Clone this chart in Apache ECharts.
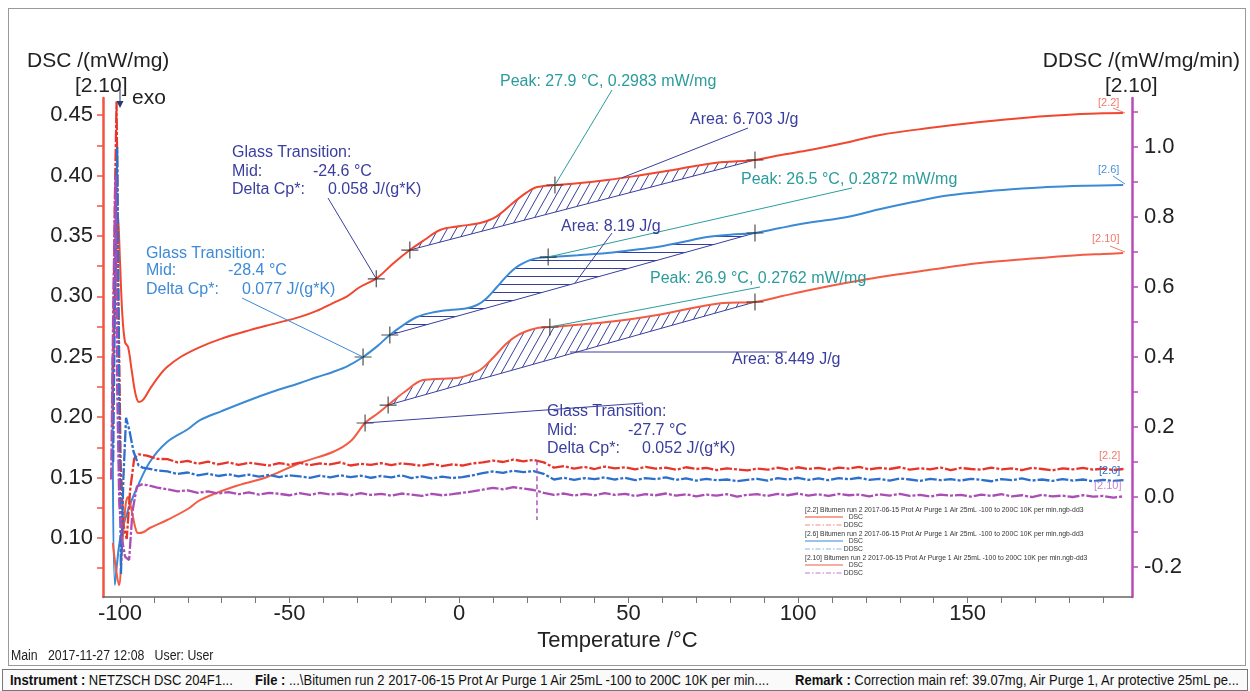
<!DOCTYPE html>
<html>
<head>
<meta charset="utf-8">
<title>DSC Bitumen</title>
<script src="https://cdn.jsdelivr.net/npm/echarts@6/dist/echarts.min.js"></script>
<style>
  body { margin: 0; background: #fff; font-family: "Liberation Sans", Arial, sans-serif; }
  #frame { position: absolute; left: 8px; top: 8px; width: 1236px; height: 656px; border: 1px solid #9a9a9a; }
  #chart { position: absolute; left: 0; top: 0; width: 1250px; height: 691px; }
  #meta { position: absolute; left: 11px; top: 647px; font-size: 14px; color: #222; white-space: pre; transform: scaleX(0.88); transform-origin: left; }
  #status { position: absolute; left: 2px; top: 669px; width: 1244px; height: 20px; border: 1px solid #777; background: #fafafa; font-size: 14px; color: #111; white-space: nowrap; }
  #status span { position: absolute; top: 2px; transform: scaleX(0.93); transform-origin: left; }
  #status b { font-weight: bold; }
</style>
</head>
<body>
<div id="frame"></div>
<div id="chart"></div>
<div id="meta">Main   2017-11-27 12:08   User: User</div>
<div id="status">
  <span style="left:7px"><b>Instrument :</b>  NETZSCH DSC 204F1...</span>
  <span style="left:252px"><b>File :</b>  ...\Bitumen run 2 2017-06-15 Prot Ar Purge 1 Air 25mL -100 to 200C 10K per min....</span>
  <span style="left:792px"><b>Remark :</b>  Correction main ref: 39.07mg, Air Purge 1, Ar protective 25mL pe...</span>
</div>
<script>
// DSC curves (left axis, mW/mg)
const dsc22T = [-102.0, -101.2, -100.6, -100.0, -99.3, -98.5, -97.6, -96.5, -95.4, -94.4, -93.0, -91.0, -88.5, -86.1, -82.0, -76.4, -70.0, -61.7, -55.0, -46.9, -42.0, -37.2, -33.0, -29.2, -24.2, -19.5, -14.5, -10.0, -5.6, 0.0, 6.2, 11.0, 15.9, 20.0, 23.0, 28.3, 35.0, 43.7, 53.0, 63.1, 70.0, 77.9, 87.3, 95.0, 103.5, 114.0, 124.2, 138.0, 153.7, 168.0, 183.2, 190.0, 195.9];
const dsc22 = [0.240, 0.320, 0.369, 0.330, 0.285, 0.262, 0.258, 0.238, 0.219, 0.2125, 0.215, 0.224, 0.234, 0.2415, 0.250, 0.258, 0.265, 0.272, 0.277, 0.283, 0.288, 0.2944, 0.300, 0.3077, 0.3151, 0.327, 0.3383, 0.347, 0.3549, 0.358, 0.3606, 0.366, 0.3772, 0.386, 0.3904, 0.3921, 0.3935, 0.3962, 0.400, 0.4045, 0.408, 0.4111, 0.4128, 0.417, 0.421, 0.427, 0.4335, 0.439, 0.4442, 0.448, 0.4508, 0.4515, 0.4517];

const dsc26T = [-102.2, -101.5, -100.0, -97.6, -95.0, -91.2, -86.1, -80.0, -76.4, -70.0, -61.7, -55.0, -46.9, -42.0, -37.2, -33.0, -28.3, -24.0, -20.4, -16.0, -12.4, -8.0, -2.7, 2.0, 5.3, 8.0, 11.2, 13.5, 15.9, 18.0, 20.9, 23.5, 26.3, 35.0, 43.7, 50.0, 58.4, 66.0, 73.2, 80.0, 87.3, 94.7, 103.5, 114.5, 124.0, 133.9, 143.0, 153.7, 163.0, 173.5, 185.0, 195.9];
const dsc26 = [0.250, 0.0611, 0.0984, 0.1232, 0.1414, 0.1629, 0.1794, 0.190, 0.1976, 0.205, 0.2142, 0.221, 0.2283, 0.233, 0.2374, 0.242, 0.2498, 0.259, 0.268, 0.277, 0.2829, 0.2865, 0.2887, 0.290, 0.2928, 0.298, 0.3077, 0.315, 0.3218, 0.326, 0.330, 0.3318, 0.3325, 0.334, 0.3358, 0.338, 0.3408, 0.345, 0.349, 0.351, 0.3524, 0.3565, 0.361, 0.3656, 0.372, 0.378, 0.383, 0.3863, 0.3885, 0.3904, 0.3915, 0.3921];

const dsc210T = [-102.1, -101.2, -100.3, -99.3, -98.3, -97.6, -96.5, -95.5, -94.7, -93.0, -91.2, -86.1, -80.0, -76.4, -66.7, -56.6, -46.9, -37.2, -32.0, -27.7, -24.0, -20.9, -16.0, -10.6, -5.0, -0.6, 3.0, 6.2, 10.0, 14.2, 17.5, 20.9, 23.5, 26.8, 35.0, 43.7, 53.0, 63.1, 70.0, 77.9, 87.3, 95.0, 103.5, 114.0, 124.2, 138.0, 153.7, 168.0, 183.2, 190.0, 195.9];
const dsc210 = [0.0959, 0.075, 0.0611, 0.095, 0.128, 0.134, 0.122, 0.109, 0.1041, 0.105, 0.1083, 0.1149, 0.124, 0.1314, 0.1422, 0.1505, 0.1621, 0.1712, 0.180, 0.1952, 0.203, 0.210, 0.221, 0.2307, 0.2318, 0.2324, 0.235, 0.239, 0.249, 0.2614, 0.268, 0.2721, 0.274, 0.2746, 0.2765, 0.2787, 0.282, 0.287, 0.291, 0.2944, 0.2953, 0.300, 0.3052, 0.311, 0.316, 0.3215, 0.3275, 0.331, 0.3342, 0.335, 0.3358];

// DDSC curves (right axis, mW/mg/min): start-up transient, then the noisy trace
const ddsc22HeadT = [-102.2, -101.5, -101.0, -100.5, -99.8, -99.0, -98.0, -97.0, -95.8, -94.5];
const ddsc22Head = [0.20, 0.85, 1.13, 0.60, 0.10, -0.08, -0.12, 0.02, 0.11, 0.122];
const ddsc26HeadT = [-102.0, -101.3, -100.8, -100.3, -99.7, -99.0, -98.2, -97.2, -96.0, -94.5, -93.3];
const ddsc26Head = [0.10, 0.75, 1.00, 0.35, -0.22, 0.05, 0.226, 0.19, 0.13, 0.09, 0.084];
const ddsc210HeadT = [-102.6, -101.9, -101.3, -100.8, -100.2, -99.4, -98.5, -97.3, -96.3, -95.0, -93.5];
const ddsc210Head = [0.05, 0.60, 0.92, 0.30, -0.02, -0.12, -0.17, -0.18, -0.04, 0.03, 0.036];

const ddscT = [-92, -89, -86, -83, -80, -77, -74, -71, -68, -65, -62, -59, -56, -53, -50, -47, -44, -41, -38, -35, -32, -29, -26, -23, -20, -17, -14, -11, -8, -5, -2, 1, 4, 7, 10, 13, 16, 19, 22, 25, 28, 31, 34, 37, 40, 43, 46, 49, 52, 55, 58, 61, 64, 67, 70, 73, 76, 79, 82, 85, 88, 91, 94, 97, 100, 103, 106, 109, 112, 115, 118, 121, 124, 127, 130, 133, 136, 139, 142, 145, 148, 151, 154, 157, 160, 163, 166, 169, 172, 175, 178, 181, 184, 187, 190, 193, 196];
const ddsc22 = [0.118, 0.109, 0.108, 0.099, 0.103, 0.095, 0.101, 0.093, 0.099, 0.092,
  0.098, 0.094, 0.090, 0.097, 0.092, 0.098, 0.091, 0.096, 0.093, 0.099,
  0.090, 0.095, 0.092, 0.097, 0.091, 0.096, 0.093, 0.089, 0.095, 0.088,
  0.093, 0.090, 0.096, 0.099, 0.104, 0.100, 0.107, 0.102, 0.106, 0.099,
  0.084, 0.088, 0.081, 0.086, 0.080, 0.087, 0.082, 0.085, 0.079, 0.086,
  0.081, 0.084, 0.078, 0.085, 0.080, 0.083, 0.077, 0.082, 0.079, 0.076,
  0.081, 0.078, 0.084, 0.079, 0.085, 0.080, 0.083, 0.078, 0.084, 0.081,
  0.086, 0.079, 0.083, 0.080, 0.085, 0.078, 0.082, 0.079, 0.084, 0.077,
  0.083, 0.080, 0.078, 0.084, 0.079, 0.082, 0.077, 0.083, 0.080, 0.076,
  0.082, 0.079, 0.083, 0.078, 0.081, 0.077, 0.080];
const ddsc26 = [0.082, 0.076, 0.073, 0.066, 0.070, 0.062, 0.067, 0.060, 0.065, 0.059,
  0.064, 0.058, 0.063, 0.057, 0.062, 0.059, 0.055, 0.061, 0.056, 0.062,
  0.057, 0.061, 0.055, 0.060, 0.056, 0.062, 0.054, 0.059, 0.053, 0.058,
  0.054, 0.057, 0.062, 0.068, 0.073, 0.069, 0.075, 0.071, 0.074, 0.066,
  0.050, 0.055, 0.049, 0.054, 0.051, 0.056, 0.050, 0.055, 0.048, 0.054,
  0.051, 0.056, 0.049, 0.053, 0.047, 0.052, 0.048, 0.050, 0.045, 0.049,
  0.052, 0.047, 0.054, 0.050, 0.055, 0.049, 0.053, 0.048, 0.054, 0.051,
  0.055, 0.049, 0.052, 0.047, 0.053, 0.050, 0.046, 0.052, 0.048, 0.051,
  0.047, 0.052, 0.049, 0.045, 0.051, 0.048, 0.053, 0.047, 0.050, 0.046,
  0.051, 0.047, 0.050, 0.045, 0.049, 0.046, 0.048];
const ddsc210 = [0.034, 0.027, 0.022, 0.016, 0.019, 0.012, 0.016, 0.010, 0.014, 0.008,
  0.013, 0.007, 0.012, 0.009, 0.005, 0.011, 0.006, 0.012, 0.007, 0.010,
  0.005, 0.011, 0.006, 0.009, 0.004, 0.010, 0.007, 0.003, 0.009, 0.005,
  0.008, 0.012, 0.016, 0.021, 0.026, 0.022, 0.028, 0.024, 0.020, 0.012,
  0.006, 0.010, 0.004, 0.009, 0.005, 0.011, 0.006, 0.009, 0.003, 0.008,
  0.005, 0.010, 0.004, 0.008, 0.002, 0.007, 0.004, 0.008, 0.001, 0.006,
  0.008, 0.003, 0.009, 0.005, 0.010, 0.004, 0.008, 0.003, 0.009, 0.005,
  0.007, 0.002, 0.008, 0.004, 0.009, 0.003, 0.006, 0.001, 0.007, 0.004,
  0.006, 0.001, 0.007, 0.003, 0.008, 0.002, 0.005, 0.000, 0.006, 0.002,
  0.004, 0.000, 0.005, 0.001, 0.003, -0.002, 0.002];
const ddsc210SpikeT = [23.0, 23.0];
const ddsc210Spike = [0.105, -0.066];

// evaluation points (+) on each DSC curve: glass mid, hatch start, peak, hatch end
const cross22T = [-24.4, -14.5, 28.3, 87.3];
const cross22 = [0.3145, 0.3383, 0.3921, 0.4128];
const cross26T = [-28.3, -20.4, 26.3, 87.3];
const cross26 = [0.2498, 0.268, 0.3325, 0.3524];
const cross210T = [-27.7, -20.9, 26.8, 87.3];
const cross210 = [0.1952, 0.210, 0.2746, 0.2953];

// ticks and labels
const xLabelValues = [-100, -50, 0, 50, 100, 150];
const xTickValues = [-100, -90, -80, -70, -60, -50, -40, -30, -20, -10, 0, 10, 20, 30, 40, 50, 60, 70, 80, 90, 100, 110, 120, 130, 140, 150, 160, 170, 180, 190];
const leftLabelValues = [0.10, 0.15, 0.20, 0.25, 0.30, 0.35, 0.40, 0.45];
const leftTickValues = [0.075, 0.10, 0.125, 0.15, 0.175, 0.20, 0.225, 0.25, 0.275, 0.30, 0.325, 0.35, 0.375, 0.40, 0.425, 0.45];
const rightLabelValues = [-0.2, 0.0, 0.2, 0.4, 0.6, 0.8, 1.0];
const rightTickValues = [-0.2, -0.1, 0.0, 0.1, 0.2, 0.3, 0.4, 0.5, 0.6, 0.7, 0.8, 0.9, 1.0, 1.1];

const C22 = '#f1472f', C26 = '#3a8ad6', C210 = '#f35b43';
const D22 = '#e8352b', D26 = '#2d6fcc', D210 = '#aa4db5';
const darkBlue = '#3a3e9e', lightBlue = '#3d8ad6', teal = '#2b9c9c', hatchBlue = '#34409c';
const FONT = '"Liberation Sans", Arial, sans-serif';

const zip = (t, v) => t.map((x, i) => [x, v[i]]);

function makeHatch(kind) {
  const c = document.createElement('canvas');
  c.width = kind === 'diag' ? 9 : 8;
  c.height = kind === 'diag' ? 16 : 8;
  const g = c.getContext('2d');
  g.strokeStyle = hatchBlue;
  g.lineWidth = 1;
  g.beginPath();
  if (kind === 'diag') {
    for (const dx of [-9, 0, 9]) { g.moveTo(dx - 9, 32); g.lineTo(dx + 18, -16); }
  } else {
    g.moveTo(0, 4.5); g.lineTo(8, 4.5);
  }
  g.stroke();
  return c;
}

const hatchRegions = [
  { t: dsc22T, v: dsc22, from: cross22T[1], to: cross22T[3], pattern: makeHatch('diag') },
  { t: dsc26T, v: dsc26, from: cross26T[1], to: cross26T[3], pattern: makeHatch('horiz') },
  { t: dsc210T, v: dsc210, from: cross210T[1], to: cross210T[3], pattern: makeHatch('diag') }
];

const chart = echarts.init(document.getElementById('chart'));

const dscLine = (name, t, v, color) => ({
  name, type: 'line', yAxisIndex: 0, data: zip(t, v), showSymbol: false, silent: true,
  smooth: 0.35, lineStyle: { color, width: 2 }, z: 3
});
const ddscLine = (name, headT, head, v, color) => ({
  name, type: 'line', yAxisIndex: 1, data: zip(headT, head).concat(zip(ddscT, v)), showSymbol: false, silent: true,
  lineStyle: { color, width: 2.3, type: [12, 2, 3, 2] }, z: 4
});
const baseLine = (t, v) => ({
  type: 'line', yAxisIndex: 0, showSymbol: false, silent: true,
  data: [[t[1], v[1]], [t[3], v[3]]], lineStyle: { color: darkBlue, width: 1 }, z: 3
});

const plusPath = 'path://M-0.07,-1 L0.07,-1 L0.07,-0.07 L1,-0.07 L1,0.07 L0.07,0.07 L0.07,1 L-0.07,1 L-0.07,0.07 L-1,0.07 L-1,-0.07 L-0.07,-0.07 Z';

chart.setOption({
  animation: false,
  textStyle: { fontFamily: FONT },
  grid: { left: 103, right: 118, top: 98, bottom: 94 },
  xAxis: {
    type: 'value', min: -105, max: 198.5,
    name: 'Temperature /°C', nameLocation: 'middle', nameGap: 32,
    nameTextStyle: { fontSize: 22, color: '#222', fontFamily: FONT },
    axisLine: { show: true, onZero: false, lineStyle: { color: '#666', width: 1.5 } },
    axisTick: { show: true, customValues: xTickValues, length: 6, lineStyle: { color: '#777' } },
    axisLabel: { customValues: xLabelValues, fontSize: 22, color: '#222', margin: 6, formatter: v => String(v) },
    splitLine: { show: false }
  },
  yAxis: [
    {
      type: 'value', position: 'left', min: 0.0512, max: 0.4641,
      axisLine: { show: true, onZero: false, lineStyle: { color: '#f0553f', width: 2.5 } },
      axisTick: { show: true, customValues: leftTickValues, length: 6, lineStyle: { color: '#f0553f', width: 1.5 } },
      axisLabel: { customValues: leftLabelValues, fontSize: 22, color: '#222', margin: 10, formatter: v => v.toFixed(2) },
      splitLine: { show: false }
    },
    {
      type: 'value', position: 'right', min: -0.2857, max: 1.14,
      axisLine: { show: true, onZero: false, lineStyle: { color: '#b84cb8', width: 2.5 } },
      axisTick: { show: true, customValues: rightTickValues, length: 6, lineStyle: { color: '#b84cb8', width: 1.5 } },
      axisLabel: { customValues: rightLabelValues, fontSize: 22, color: '#222', margin: 12, formatter: v => v.toFixed(1) },
      splitLine: { show: false }
    }
  ],
  series: [
    {
      type: 'custom', name: 'hatch', yAxisIndex: 0, silent: true, z: 2,
      data: [[0, 0.3], [1, 0.3], [2, 0.3]],
      renderItem: (params, api) => {
        const r = hatchRegions[params.dataIndex];
        const pts = [];
        r.t.forEach((t, i) => {
          if (t >= r.from - 1e-9 && t <= r.to + 1e-9) pts.push(api.coord([t, r.v[i]]));
        });
        return { type: 'polygon', shape: { points: pts }, style: { fill: { image: r.pattern, repeat: 'repeat' }, stroke: null } };
      }
    },
    baseLine(cross22T, cross22),
    baseLine(cross26T, cross26),
    baseLine(cross210T, cross210),
    dscLine('DSC [2.2]', dsc22T, dsc22, C22),
    dscLine('DSC [2.6]', dsc26T, dsc26, C26),
    dscLine('DSC [2.10]', dsc210T, dsc210, C210),
    ddscLine('DDSC [2.2]', ddsc22HeadT, ddsc22Head, ddsc22, D22),
    ddscLine('DDSC [2.6]', ddsc26HeadT, ddsc26Head, ddsc26, D26),
    ddscLine('DDSC [2.10]', ddsc210HeadT, ddsc210Head, ddsc210, D210),
    {
      type: 'line', yAxisIndex: 1, silent: true, showSymbol: false, data: zip(ddsc210SpikeT, ddsc210Spike),
      lineStyle: { color: D210, width: 1.4, type: [5, 3] }, z: 4
    },
    {
      type: 'scatter', yAxisIndex: 0, silent: true, symbol: plusPath, symbolSize: 17,
      data: zip(cross22T, cross22).concat(zip(cross26T, cross26), zip(cross210T, cross210)),
      itemStyle: { color: '#222' }, z: 6
    }
  ]
});

// annotations, labels and the small legend block
const px = (t, v) => chart.convertToPixel({ xAxisIndex: 0, yAxisIndex: 0 }, [t, v]);
const txt = (text, x, y, color, size, align) => ({
  type: 'text', x, y, z: 50, silent: true,
  style: { text, fill: color, font: size + 'px ' + FONT, textAlign: align || 'left', textVerticalAlign: 'middle', align: align || 'left', verticalAlign: 'middle' }
});
const seg = (a, b, color, width, dash) => ({
  type: 'line', z: 40, silent: true,
  shape: { x1: a[0], y1: a[1], x2: b[0], y2: b[1] },
  style: { stroke: color, lineWidth: width || 1, lineDash: dash || null }
});

const annoTexts = [
  ['Glass Transition:', 232, 153, darkBlue], ['Mid:', 232, 172, darkBlue], ['-24.6 °C', 313, 172, darkBlue],
  ['Delta Cp*:', 232, 190, darkBlue], ['0.058 J/(g*K)', 328, 190, darkBlue],
  ['Glass Transition:', 146, 254, lightBlue], ['Mid:', 146, 271, lightBlue], ['-28.4 °C', 228, 271, lightBlue],
  ['Delta Cp*:', 146, 290, lightBlue], ['0.077 J/(g*K)', 242, 290, lightBlue],
  ['Glass Transition:', 547, 412, darkBlue], ['Mid:', 547, 431, darkBlue], ['-27.7 °C', 628, 431, darkBlue],
  ['Delta Cp*:', 547, 449, darkBlue], ['0.052 J/(g*K)', 642, 449, darkBlue],
  ['Peak: 27.9 °C, 0.2983 mW/mg', 500, 82, teal],
  ['Area: 6.703 J/g', 690, 120, darkBlue],
  ['Peak: 26.5 °C, 0.2872 mW/mg', 741, 180, teal],
  ['Area: 8.19 J/g', 561, 227, darkBlue],
  ['Peak: 26.9 °C, 0.2762 mW/mg', 650, 279, teal],
  ['Area: 8.449 J/g', 732, 360, darkBlue]
];
const leaders = [
  [[328, 198], px(cross22T[0], cross22[0]), darkBlue],
  [[242, 298], px(cross26T[0], cross26[0]), lightBlue],
  [[643, 403], px(cross210T[0], cross210[0]), darkBlue],
  [[612, 90], px(cross22T[2], cross22[2]), teal],
  [[748, 128], px(48.0, 0.398), darkBlue],
  [[852, 188], px(cross26T[2], cross26[2]), teal],
  [[612, 233], px(34.2, 0.311), darkBlue],
  [[760, 287], px(cross210T[2], cross210[2]), teal],
  [[570, 352], [787, 352], darkBlue]
];

const g = [];
g.push(txt('DSC /(mW/mg)', 27, 61, '#222', 21));
g.push(txt('[2.10]', 75, 86, '#222', 21));
g.push(txt('exo', 132, 98, '#222', 21));
g.push(seg([120, 89], [120, 102], '#2a3a6a', 1));
g.push({ type: 'polygon', z: 40, silent: true, shape: { points: [[116.5, 101], [123.5, 101], [120, 108]] }, style: { fill: '#2a3a6a' } });
g.push(txt('DDSC /(mW/mg/min)', 1240, 61, '#222', 21, 'right'));
g.push(txt('[2.10]', 1105, 86, '#222', 21));

annoTexts.forEach(a => g.push(txt(a[0], a[1], a[2], a[3], 16)));
leaders.forEach(l => g.push(seg(l[0], l[1], l[2], 1)));

// curve end tags
const tags = [
  ['[2.2]', 1098, 103, '#f07a6a', [1113, 108], [1125, 113]],
  ['[2.6]', 1098, 170, '#4a90d8', [1113, 176], [1125, 184]],
  ['[2.10]', 1092, 239, '#f07a6a', [1110, 246], [1125, 252]],
  ['[2.2]', 1099, 456, '#f07a6a', null, null],
  ['[2.6]', 1099, 471, '#2d6fcc', null, null],
  ['[2.10]', 1094, 486, '#c586cc', null, null]
];
tags.forEach(t => {
  g.push(txt(t[0], t[1], t[2], t[3], 11));
  if (t[4]) g.push(seg(t[4], t[5], t[3], 1));
});

// legend block
const legendRows = [
  ['[2.2] Bitumen run 2 2017-06-15 Prot Ar Purge 1 Air 25mL -100 to 200C 10K per min.ngb-dd3', 510, C22, '#f28a8a'],
  ['[2.6] Bitumen run 2 2017-06-15 Prot Ar Purge 1 Air 25mL -100 to 200C 10K per min.ngb-dd3', 534, C26, '#8ab8ea'],
  ['[2.10] Bitumen run 2 2017-06-15 Prot Ar Purge 1 Air 25mL -100 to 200C 10K per min.ngb-dd3', 558, C210, '#c27ccc']
];
legendRows.forEach(r => {
  g.push(txt(r[0], 805, r[1], '#333', 6.8));
  g.push(seg([805, r[1] + 7], [843, r[1] + 7], r[2], 1.2));
  g.push(txt('DSC', 863, r[1] + 7, '#333', 6.8, 'right'));
  g.push(seg([805, r[1] + 15], [843, r[1] + 15], r[3], 1.2, [5, 2, 1.5, 2]));
  g.push(txt('DDSC', 863, r[1] + 15, '#333', 6.8, 'right'));
});

chart.setOption({ graphic: { elements: g } });
</script>
</body>
</html>
